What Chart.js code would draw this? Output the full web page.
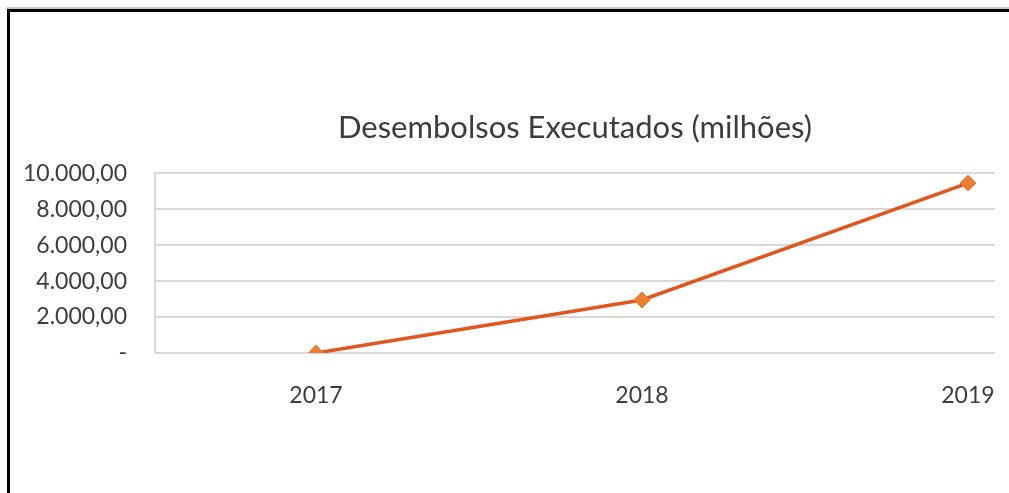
<!DOCTYPE html>
<html>
<head>
<meta charset="utf-8">
<script src="https://cdn.jsdelivr.net/npm/chart.js@4.4.1/dist/chart.umd.min.js"></script>
<style>
    html, body { margin: 0; padding: 0; background: #fff; }
    #wrap { position: relative; width: 1009px; height: 493px; }
    #frame { position: absolute; left: 7px; top: 9px; right: 0; bottom: 0;
             border-top: 3px solid #000; border-left: 3px solid #000; pointer-events: none; }
    #frame-shadow { position: absolute; left: 7px; top: 7px; right: 0; height: 2px; background: #c8c8c8; }
</style>
</head>
<body>
<div id="wrap">
    <canvas id="chart" width="1009" height="493"></canvas>
    <div id="frame-shadow"></div>
    <div id="frame"></div>
</div>
<script>
const years = [2017, 2018, 2019];
const desembolsos = [0, 2950, 9450];
const yTicks = [0, 2000, 4000, 6000, 8000, 10000];
const chartTitle = 'Desembolsos Executados (milhões)';

const TEXT = '#3c3c3c';
const FONT = 'Lato';

function fmtBR(v) {
    if (v === 0) return '-';
    const parts = v.toFixed(2).split('.');
    const intPart = parts[0].replace(/\B(?=(\d{3})+(?!\d))/g, '.');
    return intPart + ',' + parts[1];
}

const ctx = document.getElementById('chart').getContext('2d');
new Chart(ctx, {
    type: 'line',
    data: {
        datasets: [{
            label: chartTitle,
            data: years.map((y, i) => ({ x: y, y: desembolsos[i] })),
            borderColor: '#E2561E',
            borderWidth: 3.5,
            tension: 0,
            pointStyle: 'rectRot',
            pointRadius: 8,
            pointBackgroundColor: '#ED7D31',
            pointBorderColor: '#ED7D31',
            pointBorderWidth: 1
        }]
    },
    options: {
        responsive: false,
        animation: false,
        layout: { padding: { left: 0, right: 14, top: 109, bottom: 0 } },
        plugins: {
            legend: { display: false },
            tooltip: { enabled: false },
            title: {
                display: true,
                fullSize: false,
                text: chartTitle,
                color: TEXT,
                font: { family: FONT, size: 31, weight: 'normal' },
                padding: { top: 0, bottom: 27 }
            }
        },
        scales: {
            x: {
                type: 'linear',
                min: 2016.506,
                max: 2019.083,
                grid: { display: false, drawTicks: false },
                border: { display: false },
                afterBuildTicks: axis => { axis.ticks = years.map(v => ({ value: v })); },
                afterFit: axis => {
                    axis.height = 493 - 353;
                    axis.paddingLeft = 0;
                    axis.paddingRight = 0;
                },
                ticks: {
                    color: TEXT,
                    font: { family: FONT, size: 23 },
                    padding: 29,
                    maxRotation: 0,
                    callback: v => String(v)
                }
            },
            y: {
                min: 0,
                max: 10000,
                grid: { color: '#d9d9d9', lineWidth: 2, drawTicks: false },
                border: { display: true, color: '#d9d9d9', width: 2 },
                afterBuildTicks: axis => { axis.ticks = yTicks.map(v => ({ value: v })); },
                afterFit: axis => { axis.width = 155; },
                ticks: {
                    color: TEXT,
                    font: { family: FONT, size: 23 },
                    padding: 28,
                    callback: v => fmtBR(v)
                }
            }
        }
    }
});
</script>
</body>
</html>
